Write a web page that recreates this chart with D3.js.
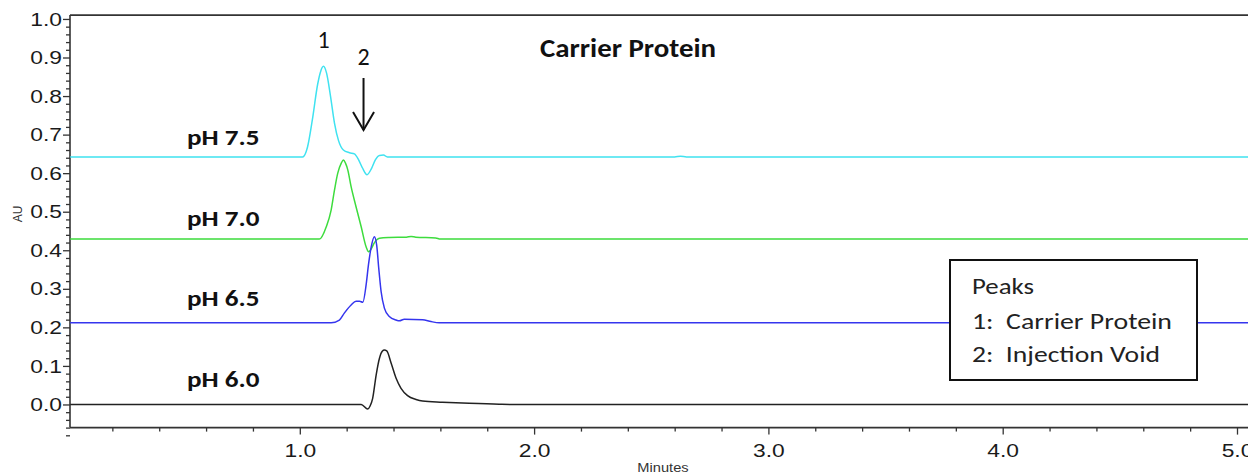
<!DOCTYPE html>
<html><head><meta charset="utf-8">
<script src="https://cdn.jsdelivr.net/npm/d3@7"></script>
<style>html,body{margin:0;padding:0;background:#fff;overflow:hidden}</style>
</head><body><svg id="c" width="1248" height="476"></svg>
<script>
// ---- data (minutes, AU) ----
const timeP75 = [0.02, 1.012, 1.033, 1.054, 1.076, 1.088, 1.101, 1.114, 1.131, 1.148, 1.165, 1.186, 1.212, 1.233, 1.250, 1.267, 1.287, 1.306, 1.323, 1.340, 1.357, 1.374, 2.60, 2.625, 2.65, 5.1];
const auP75   = [0.642, 0.642, 0.668, 0.740, 0.830, 0.862, 0.877, 0.860, 0.800, 0.730, 0.685, 0.660, 0.653, 0.650, 0.636, 0.614, 0.596, 0.612, 0.635, 0.646, 0.647, 0.642, 0.642, 0.644, 0.642, 0.642];

const timeP70 = [0.02, 1.084, 1.113, 1.134, 1.148, 1.162, 1.177, 1.186, 1.195, 1.205, 1.219, 1.240, 1.262, 1.283, 1.294, 1.306, 1.318, 1.340, 1.382, 1.455, 1.475, 1.495, 1.580, 1.600, 5.1];
const auP70   = [0.429, 0.429, 0.461, 0.505, 0.556, 0.600, 0.626, 0.634, 0.626, 0.608, 0.565, 0.513, 0.461, 0.409, 0.396, 0.405, 0.419, 0.431, 0.433, 0.434, 0.436, 0.434, 0.432, 0.429, 0.429];

const timeP65 = [0.02, 1.134, 1.169, 1.190, 1.219, 1.240, 1.255, 1.269, 1.283, 1.293, 1.304, 1.318, 1.328, 1.337, 1.347, 1.361, 1.382, 1.411, 1.425, 1.446, 1.524, 1.560, 1.595, 5.1];
const auP65   = [0.212, 0.212, 0.219, 0.237, 0.258, 0.268, 0.268, 0.265, 0.310, 0.362, 0.406, 0.435, 0.414, 0.353, 0.293, 0.250, 0.228, 0.219, 0.217, 0.221, 0.220, 0.215, 0.212, 0.212];

const timeP60 = [0.02, 1.262, 1.290, 1.300, 1.311, 1.326, 1.340, 1.352, 1.361, 1.371, 1.390, 1.411, 1.432, 1.460, 1.496, 1.524, 1.609, 1.723, 1.851, 1.900, 5.1];
const auP60   = [0.0, 0.0, -0.012, -0.004, 0.016, 0.077, 0.120, 0.138, 0.141, 0.139, 0.107, 0.068, 0.042, 0.023, 0.013, 0.009, 0.006, 0.003, 0.0005, 0.0, 0.0];

const seriesLabels = ["pH 7.5", "pH 7.0", "pH 6.5", "pH 6.0"];
const yMajorTicks = [0.0, 0.1, 0.2, 0.3, 0.4, 0.5, 0.6, 0.7, 0.8, 0.9, 1.0];
const xMajorTicks = [1.0, 2.0, 3.0, 4.0, 5.0];
const titleText = "Carrier Protein";
const peakNumbers = ["1", "2"];
const peakTimes = [1.101, 1.272];
const legendLines = ["Peaks", "1:  Carrier Protein", "2:  Injection Void"];
const xTitle = "Minutes";
const yTitle = "AU";

// ---- layout ----
const svg = d3.select("#c");
const pL = 70, pR = 1260, pT = 15.1, pB = 427.6;
const x = d3.scaleLinear().domain([(70 - 65.5) / 234.3, (1260 - 65.5) / 234.3]).range([pL, pR]);
const y = d3.scaleLinear().domain([-0.06, 1.01]).range([pB, pT]);
const axisColor = "#333";
const tickFont = "'Liberation Sans', Arial, sans-serif";
const annFont = "Calibri, Carlito, Lato, sans-serif";

function stretch(sel, f) {
  sel.each(function () {
    const l = this.getComputedTextLength();
    this.setAttribute("textLength", l * f);
    this.setAttribute("lengthAdjust", "spacingAndGlyphs");
  });
}
function fitWidth(sel, w) {
  sel.attr("textLength", w).attr("lengthAdjust", "spacingAndGlyphs");
}

svg.append("defs").append("clipPath").attr("id", "clip")
  .append("rect").attr("x", pL).attr("y", pT).attr("width", pR - pL).attr("height", pB - pT);

// minor ticks
const yMinor = d3.range(-4, 51).map(i => i * 0.02).filter(v => Math.abs(v * 10 - Math.round(v * 10)) > 1e-6);
const xMinor = d3.range(1, 26).map(i => i * 0.2).filter(v => Math.abs(v - Math.round(v)) > 1e-6);

const gy2 = svg.append("g").attr("transform", `translate(${pL},0)`)
  .call(d3.axisLeft(y).tickValues(yMinor).tickSize(4).tickFormat(""));
gy2.select(".domain").remove();
const gx2 = svg.append("g").attr("transform", `translate(0,${pB})`)
  .call(d3.axisBottom(x).tickValues(xMinor).tickSize(4).tickFormat(""));
gx2.select(".domain").remove();

const gy = svg.append("g").attr("transform", `translate(${pL},0)`)
  .call(d3.axisLeft(y).tickValues(yMajorTicks).tickSize(7).tickSizeOuter(0).tickPadding(1).tickFormat(d3.format(".1f")));
gy.select(".domain").attr("d", `M0,${pT}V${pB}`);
const gx = svg.append("g").attr("transform", `translate(0,${pB})`)
  .call(d3.axisBottom(x).tickValues(xMajorTicks).tickSize(7).tickSizeOuter(0).tickPadding(9).tickFormat(d3.format(".1f")));
gx.select(".domain").attr("d", `M${pL},0H${pR}`);

svg.selectAll(".tick line").attr("stroke", axisColor).attr("stroke-width", 1.3);
svg.selectAll(".domain").attr("stroke", axisColor).attr("stroke-width", 1.6);
svg.selectAll(".tick text").attr("font-family", tickFont).attr("font-size", 19).attr("fill", "#1a1a1a");
stretch(svg.selectAll(".tick text"), 1.2);

// top frame line
svg.append("line").attr("x1", pL).attr("x2", pR).attr("y1", pT).attr("y2", pT)
  .attr("stroke", axisColor).attr("stroke-width", 1.6);

// axis titles
const xt = svg.append("text").attr("x", 663).attr("y", 472).attr("text-anchor", "middle")
  .attr("font-family", tickFont).attr("font-size", 12).attr("fill", "#333").text(xTitle);
stretch(xt, 1.22);
svg.append("text").attr("transform", "translate(22,214) rotate(-90)").attr("text-anchor", "middle")
  .attr("font-family", tickFont).attr("font-size", 12).attr("fill", "#333").text(yTitle);

// traces
const series = [
  { t: timeP75, v: auP75, color: "#3fe2f0" },
  { t: timeP70, v: auP70, color: "#3ddc3d" },
  { t: timeP65, v: auP65, color: "#3535ee" },
  { t: timeP60, v: auP60, color: "#222222" }
];
const line = d3.line().x(d => x(d[0])).y(d => y(d[1])).curve(d3.curveMonotoneX);
const gl = svg.append("g").attr("clip-path", "url(#clip)");
series.forEach(s => {
  gl.append("path").datum(s.t.map((t, i) => [t, s.v[i]]))
    .attr("d", line).attr("fill", "none").attr("stroke", s.color).attr("stroke-width", 1.5);
});

// series labels
const labelBaselinesPx = [145, 226, 306, 387];
const lab = svg.append("g").selectAll("text").data(seriesLabels).join("text")
  .attr("x", 187).attr("y", (d, i) => labelBaselinesPx[i])
  .attr("font-family", annFont).attr("font-weight", "900").attr("font-size", 23).attr("fill", "#111")
  .text(d => d);
fitWidth(lab, 72.5);

// title
const tt = svg.append("text").attr("x", 540).attr("y", 57).attr("font-family", annFont)
  .attr("font-weight", "900").attr("font-size", 26).attr("fill", "#111").text(titleText);
fitWidth(tt, 176);

// peak numbers
svg.append("text").attr("x", x(peakTimes[0])).attr("y", 48).attr("text-anchor", "middle")
  .attr("font-family", annFont).attr("font-size", 24).attr("fill", "#111").text(peakNumbers[0]);
svg.append("text").attr("x", x(peakTimes[1])).attr("y", 65).attr("text-anchor", "middle")
  .attr("font-family", annFont).attr("font-size", 24).attr("fill", "#111").text(peakNumbers[1]);

// arrow for peak 2
const ax = x(peakTimes[1]);
svg.append("line").attr("x1", ax).attr("x2", ax).attr("y1", 78).attr("y2", 130)
  .attr("stroke", "#111").attr("stroke-width", 2);
svg.append("path").attr("d", `M${ax - 10.5},112 L${ax},130 L${ax + 10.5},112`)
  .attr("fill", "none").attr("stroke", "#111").attr("stroke-width", 2);

// legend box
svg.append("rect").attr("x", 950).attr("y", 260).attr("width", 247).attr("height", 120)
  .attr("fill", "#fff").attr("stroke", "#111").attr("stroke-width", 2);
const legW = [62, 200, 188];
const legY = [294, 329, 362];
const lt = svg.append("g").selectAll("text").data(legendLines).join("text")
  .attr("x", 972).attr("y", (d, i) => legY[i]).style("white-space", "pre")
  .attr("font-family", annFont).attr("font-size", 23).attr("fill", "#222")
  .text(d => d);
lt.each(function (d, i) { fitWidth(d3.select(this), legW[i]); });
</script></body></html>
